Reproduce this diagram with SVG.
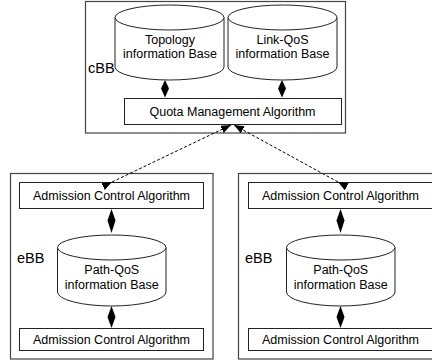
<svg xmlns="http://www.w3.org/2000/svg" width="432" height="361" viewBox="0 0 432 361">
  <defs>
    <marker id="head" markerWidth="10" markerHeight="8" refX="10" refY="4" orient="auto" markerUnits="userSpaceOnUse">
      <path d="M0,0 L10,4 L0,8 Z" fill="#000"/>
    </marker>
    <style>
      .frame { fill: #fff; stroke: #444; stroke-width: 1.2; }
      .box { fill: #fff; stroke: #222; stroke-width: 1; }
      .db { fill: #fff; stroke: #222; stroke-width: 1; }
      .txt { font-family: "Liberation Sans", Arial, sans-serif; font-size: 12.5px; fill: #000; text-anchor: middle; }
      .lbl { font-family: "Liberation Sans", Arial, sans-serif; font-size: 14.5px; fill: #000; }
      .dash { stroke: #000; stroke-width: 1; fill: none; stroke-dasharray: 3 2; }
      .dia { fill: #000; }
    </style>
  </defs>
  <rect width="432" height="361" fill="#fff"/>

  <!-- core bandwidth broker -->
  <g id="cBB">
    <rect class="frame" x="85.5" y="1.5" width="260" height="131.5"/>
    <text class="lbl" x="88" y="73">cBB</text>
  </g>
  <g id="topology-db">
    <path class="db" d="M115,17.5 L115,67 A54.5,13 0 0 0 224,67 L224,17.5"/>
    <ellipse class="db" cx="169.5" cy="17.5" rx="54.5" ry="12.5"/>
    <text class="txt" x="170" y="44">Topology</text>
    <text class="txt" x="170" y="57.5">information Base</text>
  </g>
  <g id="linkqos-db">
    <path class="db" d="M228,17.5 L228,67 A54.5,13 0 0 0 337,67 L337,17.5"/>
    <ellipse class="db" cx="282.5" cy="17.5" rx="54.5" ry="12.5"/>
    <text class="txt" x="282.5" y="44">Link-QoS</text>
    <text class="txt" x="282.5" y="57.5">information Base</text>
  </g>
  <g id="quota">
    <rect class="box" x="124.5" y="98.5" width="217" height="26"/>
    <text class="txt" x="232.5" y="116">Quota Management Algorithm</text>
  </g>

  <!-- edge bandwidth broker, left -->
  <g id="eBB-left">
    <rect class="frame" x="10.5" y="173.5" width="202.5" height="185.5"/>
    <text class="lbl" x="17" y="263">eBB</text>
  </g>
  <g id="aca-left-top">
    <rect class="box" x="19.5" y="182.5" width="184" height="26"/>
    <text class="txt" x="111.5" y="199.5">Admission Control Algorithm</text>
  </g>
  <g id="pathqos-left">
    <path class="db" d="M57.5,247.5 L57.5,292 A54.25,14 0 0 0 166,292 L166,247.5"/>
    <ellipse class="db" cx="111.75" cy="247.5" rx="54.25" ry="12.5"/>
    <text class="txt" x="111.75" y="273.5">Path-QoS</text>
    <text class="txt" x="111.75" y="288.5">information Base</text>
  </g>
  <g id="aca-left-bottom">
    <rect class="box" x="19.5" y="328.5" width="184" height="22"/>
    <text class="txt" x="111.5" y="343.5">Admission Control Algorithm</text>
  </g>

  <!-- edge bandwidth broker, right -->
  <g id="eBB-right">
    <rect class="frame" x="238.5" y="173.5" width="202.5" height="185.5"/>
    <text class="lbl" x="245" y="263">eBB</text>
  </g>
  <g id="aca-right-top">
    <rect class="box" x="248.5" y="182.5" width="184" height="26"/>
    <text class="txt" x="340.5" y="199.5">Admission Control Algorithm</text>
  </g>
  <g id="pathqos-right">
    <path class="db" d="M286.5,247.5 L286.5,292 A54.25,14 0 0 0 395,292 L395,247.5"/>
    <ellipse class="db" cx="340.75" cy="247.5" rx="54.25" ry="12.5"/>
    <text class="txt" x="340.75" y="273.5">Path-QoS</text>
    <text class="txt" x="340.75" y="288.5">information Base</text>
  </g>
  <g id="aca-right-bottom">
    <rect class="box" x="248.5" y="328.5" width="184" height="22"/>
    <text class="txt" x="340.5" y="343.5">Admission Control Algorithm</text>
  </g>

  <!-- connectors -->
  <g id="connectors">
    <polygon class="dia" points="165,80 169,88.5 165,97.5 161,88.5"/>
    <polygon class="dia" points="282,80 286,88.5 282,97.5 278,88.5"/>
    <polygon class="dia" points="111.5,209 115.5,220.5 111.5,233 107.5,220.5"/>
    <polygon class="dia" points="111.5,306 115.5,317 111.5,328 107.5,317"/>
    <polygon class="dia" points="340.5,209 344.5,220.5 340.5,233 336.5,220.5"/>
    <polygon class="dia" points="340.5,306 344.5,317 340.5,328 336.5,317"/>
    <path class="dash" d="M112,182 L231,125" marker-start="url(#head)" marker-end="url(#head)"/>
    <path class="dash" d="M338,182 L234,125" marker-start="url(#head)" marker-end="url(#head)"/>
  </g>
</svg>
